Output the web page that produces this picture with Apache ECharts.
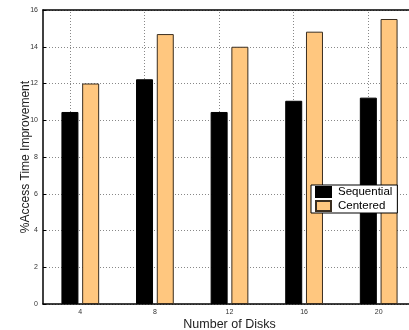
<!DOCTYPE html>
<html><head><meta charset="utf-8">
<script src="https://cdn.jsdelivr.net/npm/echarts@6/dist/echarts.min.js"></script>
<style>html,body{margin:0;padding:0;background:#fff}#c{width:409px;height:330px}</style>
</head><body><div id="c"></div>
<script>
var categories = ['4', '8', '12', '16', '20'];
var sequential = [10.45, 12.23, 10.45, 11.06, 11.23];
var centered = [12.0, 14.69, 14.0, 14.82, 15.51];
var yTicks = [0, 2, 4, 6, 8, 10, 12, 14, 16];

var font = 'Liberation Sans';
var chart = echarts.init(document.getElementById('c'), null, {renderer: 'canvas'});
var dotted = {color: '#888', type: [1, 2], width: 1};
chart.setOption({
  animation: false,
  grid: {left: 43, right: -7, top: 10, bottom: 26, show: false, containLabel: false, outerBoundsMode: 'none'},
  legend: {
    data: ['Sequential', 'Centered'],
    orient: 'vertical', left: 311, top: 185,
    itemWidth: 15, itemHeight: 10, itemGap: 2,
    padding: [1, 5, 1, 4],
    borderColor: '#000', borderWidth: 1, backgroundColor: '#fff',
    textStyle: {fontFamily: font, fontSize: 11.5, color: '#000', padding: [0, 0, 0, 2]},
    icon: 'rect'
  },
  xAxis: [{
    type: 'category', data: categories, position: 'bottom',
    name: 'Number of Disks', nameLocation: 'middle', nameGap: 14,
    nameMoveOverlap: false,
    nameTextStyle: {fontFamily: font, fontSize: 12.5, color: '#222'},
    axisLine: {lineStyle: {color: '#000', width: 1.5}},
    axisTick: {alignWithLabel: true, inside: true, length: 3, lineStyle: {color: '#000'}},
    axisLabel: {fontFamily: font, fontSize: 7, color: '#333', margin: 5},
    splitLine: {show: false}
  }, {
    type: 'category', data: categories, position: 'top',
    axisLine: {lineStyle: {color: '#000', width: 1.5}},
    axisTick: {alignWithLabel: true, inside: true, length: 3, lineStyle: {color: '#000'}},
    axisLabel: {show: false}
  }],
  yAxis: [{
    type: 'value', min: 0, max: 16, interval: 2,
    name: '%Access Time Improvement', nameLocation: 'middle', nameGap: 11,
    nameMoveOverlap: false,
    nameTextStyle: {fontFamily: font, fontSize: 12, color: '#222'},
    axisLine: {show: true, lineStyle: {color: '#000', width: 1.5}},
    axisTick: {show: true, inside: true, length: 3, lineStyle: {color: '#000'}},
    axisLabel: {fontFamily: font, fontSize: 7, color: '#333', margin: 5,
      formatter: function (v) { return yTicks.indexOf(v) >= 0 ? String(v) : ''; }},
    splitLine: {show: true, lineStyle: dotted}
  }],
  series: [{
    name: 'Sequential', type: 'bar', data: sequential,
    barWidth: 17, barGap: '22%',
    itemStyle: {color: '#000', borderColor: '#000', borderWidth: 1},
    markLine: {
      silent: true, symbol: ['none', 'none'], label: {show: false},
      lineStyle: dotted,
      data: categories.map(function (c) { return {xAxis: c}; }),
      z: 1
    },
    z: 3
  }, {
    name: 'Centered', type: 'bar', data: centered,
    barWidth: 17,
    itemStyle: {color: '#FFC77F', borderColor: '#3a2e20', borderWidth: 1},
    z: 3
  }]
});
</script></body></html>
